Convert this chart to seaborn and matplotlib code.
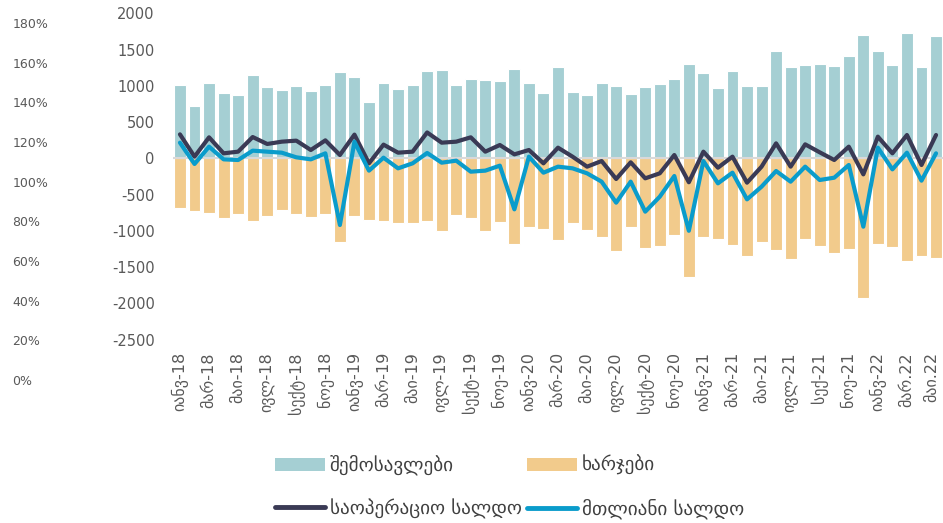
import numpy as np
import pandas as pd
import matplotlib
matplotlib.use("Agg")
import matplotlib.pyplot as plt
import matplotlib.transforms as mtransforms
import seaborn as sns
from matplotlib.patches import Patch
from matplotlib.lines import Line2D

# Monthly data, Jan 2018 - May 2022 (mln GEL)
revenue = [1012, 722, 1040, 897, 869, 1150, 984, 948, 1003, 929, 1007, 1196,
           1118, 777, 1044, 961, 1012, 1210, 1214, 1012, 1090, 1086, 1067, 1237,
           1044, 906, 1260, 920, 874, 1035, 1003, 888, 980, 1026, 1095, 1302,
           1182, 975, 1205, 998, 998, 1477, 1265, 1293, 1297, 1274, 1417, 1702,
           1481, 1288, 1725, 1256, 1693]
expenses = [-690, -722, -754, -823, -764, -865, -791, -718, -773, -814, -768, -1150,
            -796, -851, -865, -892, -892, -860, -998, -782, -819, -998, -883, -1187,
            -943, -971, -1127, -897, -994, -1081, -1279, -943, -1242, -1210, -1058, -1633,
            -1090, -1109, -1196, -1343, -1150, -1270, -1389, -1113, -1205, -1302, -1251, -1923,
            -1187, -1224, -1412, -1352, -1375]
operating = [331, 23, 290, 69, 92, 294, 198, 230, 244, 115, 248, 46,
             327, -69, 189, 78, 92, 357, 216, 230, 290, 92, 184, 55,
             115, -69, 147, 23, -115, -37, -285, -55, -276, -207, 46, -330,
             92, -129, 23, -336, -115, 207, -115, 193, 83, -23, 161, -221,
             299, 69, 322, -92, 322]
total = [216, -78, 161, -14, -23, 106, 92, 78, 14, -14, 69, -920,
         230, -170, 9, -138, -69, 74, -60, -32, -184, -170, -101, -704,
         23, -198, -115, -138, -207, -322, -612, -322, -736, -529, -244, -1000,
         -37, -345, -198, -566, -391, -175, -322, -115, -299, -267, -92, -943,
         147, -152, 78, -308, 69]
tick_labels = ["იანვ-18", "მარ-18", "მაი-18", "ივლ-18", "სექტ-18", "ნოე-18",
               "იანვ-19", "მარ-19", "მაი-19", "ივლ-19", "სექტ-19", "ნოე-19",
               "იანვ-20", "მარ-20", "მაი-20", "ივლ-20", "სექტ-20", "ნოე-20",
               "იანვ-21", "მარ-21", "მაი-21", "ივლ-21", "სექ-21", "ნოე-21",
               "იანვ-22", "მარ.22", "მაი.22"]
value_ticks = [2000, 1500, 1000, 500, 0, -500, -1000, -1500, -2000, -2500]
pct_ticks = [0.0, 0.2, 0.4, 0.6, 0.8, 1.0, 1.2, 1.4, 1.6, 1.8]
legend_labels = ["შემოსავლები", "ხარჯები", "საოპერაციო სალდო", "მთლიანი სალდო"]

REV = "#A5CFD3"
EXP = "#F2CB8C"
OP = "#3A3A55"
TOT = "#0A9CCB"
TXT = "#595959"

sns.set_theme(style="white")
plt.rcParams['font.family'] = ['DejaVu Sans']

W, H = 943, 523
fig = plt.figure(figsize=(W / 100, H / 100), dpi=100)
ax = fig.add_axes([172.7 / W, 1 - 339.5 / H, 770.6 / W, (339.5 - 13.4) / H])

df = pd.DataFrame({"pos": np.arange(len(revenue)), "rev": revenue, "exp": expenses,
                   "op": operating, "tot": total})

sns.barplot(data=df, x="pos", y="rev", color=REV, saturation=1, width=0.82,
            edgecolor="white", linewidth=0.8, ax=ax)
sns.barplot(data=df, x="pos", y="exp", color=EXP, saturation=1, width=0.82,
            edgecolor="white", linewidth=0.8, ax=ax)
ax.axhline(0, color="#D9D9D9", lw=1.5, zorder=2)
sns.lineplot(data=df, x="pos", y="op", color=OP, lw=3, ax=ax, zorder=3,
             solid_joinstyle="round", solid_capstyle="round")
sns.lineplot(data=df, x="pos", y="tot", color=TOT, lw=3, ax=ax, zorder=4,
             solid_joinstyle="round", solid_capstyle="round")

ax.set_xlim(-0.5, len(revenue) - 0.5)
ax.set_ylim(-2500, 2000)
ax.set_yticks(value_ticks)
ax.set_yticklabels([str(v) for v in value_ticks])
ax.set_xticks(range(0, len(revenue), 2))
ax.set_xticklabels(tick_labels, rotation=90)
ax.set_xlabel("")
ax.set_ylabel("")
for s in ax.spines.values():
    s.set_visible(False)
ax.tick_params(axis="y", length=0, pad=13, labelsize=10.5, labelcolor=TXT)
ax.tick_params(axis="x", length=0, pad=9, labelsize=11.5, labelcolor=TXT)
ax.grid(False)
# keep the last month label inside the figure
last = ax.get_xticklabels()[-1]
last.set_transform(last.get_transform() +
                   mtransforms.ScaledTranslation(-4 / 100, 0, fig.dpi_scale_trans))

# percentage axis on the far left
ax2 = fig.add_axes([10 / W, 1 - 380 / H, 0.001, (380 - 23) / H])
ax2.set_ylim(0, 1.8)
ax2.set_yticks(pct_ticks)
ax2.set_yticklabels([f"{int(round(p * 100))}%" for p in pct_ticks])
ax2.yaxis.tick_right()
ax2.tick_params(axis="y", length=0, pad=1, labelsize=9, labelcolor=TXT)
for lab in ax2.get_yticklabels():
    lab.set_horizontalalignment("left")
ax2.set_xticks([])
for s in ax2.spines.values():
    s.set_visible(False)
ax2.patch.set_alpha(0)

handles = [Patch(facecolor=REV, edgecolor="none"),
           Line2D([0], [0], color=OP, lw=3.5, solid_capstyle="round"),
           Patch(facecolor=EXP, edgecolor="none"),
           Line2D([0], [0], color=TOT, lw=3.5, solid_capstyle="round")]
labels = [legend_labels[0], legend_labels[2], legend_labels[1], legend_labels[3]]
leg = fig.legend(handles, labels, ncol=2, loc="upper left",
                 bbox_to_anchor=(275 / W, 1 - 455 / H), frameon=False,
                 fontsize=13.75, handlelength=2.6, handletextpad=0.27,
                 columnspacing=0.3, labelspacing=1.2, borderpad=0, borderaxespad=0)
for t in leg.get_texts():
    t.set_color("#404040")

fig.savefig("out.png", dpi=100)
